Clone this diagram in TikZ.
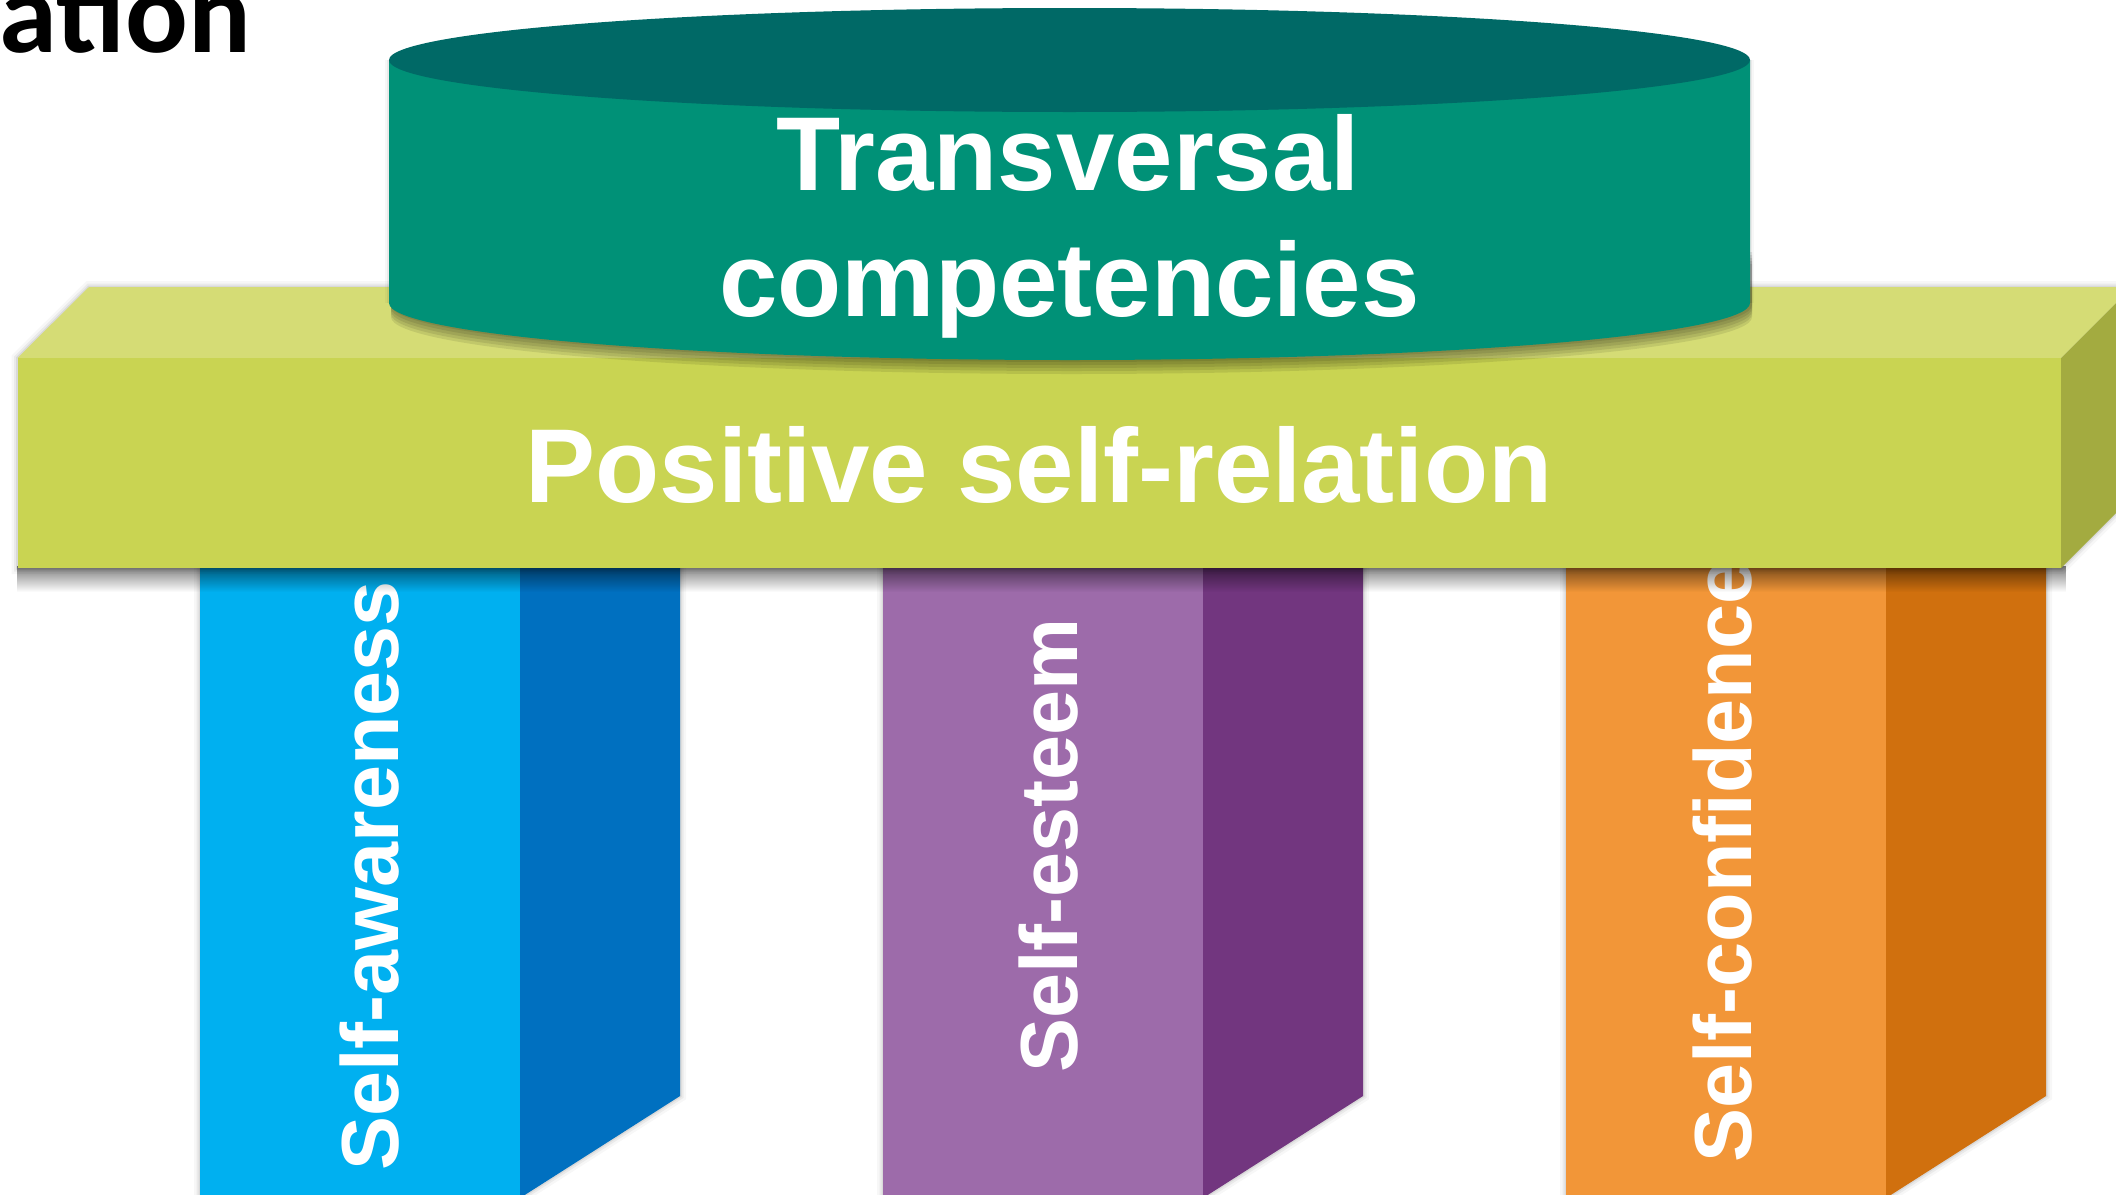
\documentclass[tikz,border=0pt]{standalone}
\usepackage{fontspec}
\setmainfont{Liberation Sans}
\newfontfamily\calib{Carlito}
\usetikzlibrary{fadings}
\definecolor{tealside}{HTML}{009177}
\definecolor{tealtop}{HTML}{006966}
\definecolor{slabfront}{HTML}{C9D452}
\definecolor{slabtop}{HTML}{D5DC75}
\definecolor{slabside}{HTML}{A3AB40}
\definecolor{bluefront}{HTML}{00B0F0}
\definecolor{blueside}{HTML}{0070C0}
\definecolor{purplefront}{HTML}{9D6BAA}
\definecolor{purpleside}{HTML}{72367F}
\definecolor{orangefront}{HTML}{F29638}
\definecolor{orangeside}{HTML}{D0700E}
\newcommand\drawpillar[3]{%
  \foreach \w/\o in {12/0.03,7/0.05,3/0.07}{%
    \draw[black, opacity=\o, line width=\w, line join=miter]
      (#1,568) -- (#1+480,568) -- (#1+480,1096) -- (#1+320,1198) -- (#1+320,1215) -- (#1,1215) -- cycle;}
  \fill[#2] (#1,560) rectangle (#1+320,1215);
  \fill[#3] (#1+320,560) -- (#1+480,560) -- (#1+480,1096) -- (#1+320,1198) -- cycle;
}
\begin{document}
\begin{tikzpicture}[x=1pt,y=-1pt,
  bigtxt/.style={text=white, font=\bfseries\fontsize{105}{126}\selectfont, inner sep=0pt, anchor=base},
  piltxt/.style={text=white, font=\bfseries\fontsize{81}{97}\selectfont, inner sep=0pt, rotate=90, anchor=base west}]
\useasboundingbox (0,0) rectangle (2116,1194);
\fill[white] (0,0) rectangle (2116,1194);

% title fragment
\node[font=\calib\bfseries\fontsize{117}{140}\selectfont, anchor=base east, inner sep=0pt] (title) at (251,52) {ation};

% pillars
\drawpillar{200}{bluefront}{blueside}
\drawpillar{883}{purplefront}{purpleside}
\drawpillar{1566}{orangefront}{orangeside}

% pillar texts (under the slab)
\node[piltxt] (aware) at (398,1171) {Self-awareness};
\node[piltxt] (esteem) at (1077,1073) {Self-esteem};
\node[piltxt] (conf) at (1751,1163) {Self-confidence};

% shadow of slab on pillars
\fill[black, opacity=0.5, path fading=south] (17.5,566) rectangle (2066,592);

% slab halo
\foreach \w/\o in {12/0.03,7/0.05,3/0.07}{%
  \draw[black, opacity=\o, line width=\w, line join=miter]
    (17.5,358) -- (89,287) -- (2132,287) -- (2132,497) -- (2061,568) -- (17.5,568) -- cycle;}
% slab
\fill[slabtop] (17.5,358) -- (89,287) -- (2132,287) -- (2061,358) -- cycle;
\fill[slabfront] (17.5,358) rectangle (2061,568);
\fill[slabside] (2061,358) -- (2132,287) -- (2132,497) -- (2061,568) -- cycle;

% cylinder shadow
\foreach \d in {2,5,8,11,14}{%
  \begin{scope}[shift={(2,\d)}]
    \fill[black, opacity=0.09] (389,250) -- (389,303) .. controls (389,334.5) and (693.7,360) .. (1069.5,360)
      .. controls (1445.3,360) and (1750,334.5) .. (1750,303) -- (1750,250) -- cycle;
  \end{scope}}
\foreach \w/\o in {8/0.03,4/0.05}{%
  \draw[black, opacity=\o, line width=\w] (389,60) -- (389,303) (1750,60) -- (1750,303);}
% cylinder
\fill[tealside] (389,60) -- (389,303) .. controls (389,334.5) and (693.7,360) .. (1069.5,360)
  .. controls (1445.3,360) and (1750,334.5) .. (1750,303) -- (1750,60) -- cycle;
\fill[tealtop] (1069.5,60) ellipse [x radius=680.5, y radius=52];

% texts
\node[bigtxt] (trans1) at (1068,190) {Transversal};
\node[bigtxt] (trans2) at (1069.5,316) {competencies};
\node[bigtxt] (psr) at (1039,502) {Positive self-relation};
\end{tikzpicture}
\end{document}
